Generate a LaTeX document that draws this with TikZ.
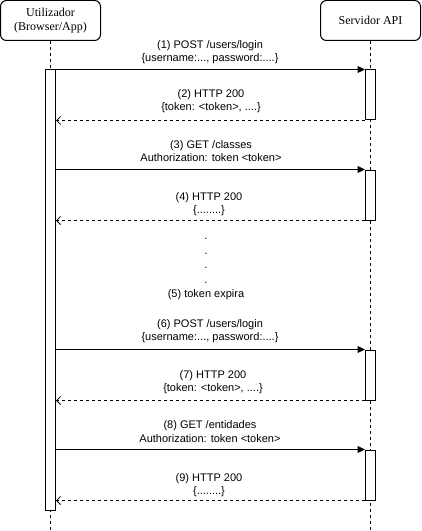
\documentclass[tikz,border=0pt]{standalone}
\usepackage{fontspec}
\setmainfont{Liberation Serif}
\setsansfont{Liberation Sans}
\usetikzlibrary{arrows.meta}
\begin{document}
\begin{tikzpicture}[x=0.75pt,y=-0.75pt,
  actor/.style={draw, rounded corners=4.5pt, minimum width=75pt, minimum height=30pt, align=center, font=\rmfamily\fontsize{9}{10.5}\selectfont, inner sep=0pt, line width=0.75pt},
  lifeline/.style={draw, dash pattern=on 2.25pt off 2.25pt, line width=0.6pt},
  bar/.style={draw, fill=white, minimum width=7.5pt, inner sep=0pt, line width=0.75pt},
  msg/.style={-{Triangle[length=5.5pt,width=5pt]}, line width=0.75pt},
  ret/.style={-{Straight Barb[length=3pt,width=6pt,line width=0.6pt]}, dash pattern=on 2.25pt off 2.25pt, line width=0.6pt},
  lbl/.style={font=\sffamily\fontsize{8.25}{9.9}\selectfont, align=center, inner sep=0pt}]
\useasboundingbox (0,0) rectangle (421,531);
% actors
\node[actor] (ua) at (50.5,20.5) {Utilizador\\(Browser/App)};
\node[actor] (sa) at (370.5,20.5) {Servidor API};
% lifelines
\coordinate (uend) at (50.5,531);
\coordinate (send) at (370.5,531);
\draw[lifeline] (ua.south) -- (uend);
\draw[lifeline] (sa.south) -- (send);
% activation bars
\node[bar, minimum height=330pt] (ub) at (50.5,290) {};
\node[bar, minimum height=37.5pt] (s1) at (370.5,95) {};
\node[bar, minimum height=37.5pt] (s2) at (370.5,195) {};
\node[bar, minimum height=37.5pt] (s3) at (370.5,375) {};
\node[bar, minimum height=37.5pt] (s4) at (370.5,475) {};
% messages
\draw[msg] (ub.east |- s1.north) -- (s1.north west);
\draw[ret] (s1.south west) -- (ub.east |- s1.south);
\draw[msg] (ub.east |- s2.north) -- (s2.north west);
\draw[ret] (s2.south west) -- (ub.east |- s2.south);
\draw[msg] (ub.east |- s3.north) -- (s3.north west);
\draw[ret] (s3.south west) -- (ub.east |- s3.south);
\draw[msg] (ub.east |- s4.north) -- (s4.north west);
\draw[ret] (s4.south west) -- (ub.east |- s4.south);
% labels
\node[lbl] (l1) at (210,52.3) {(1) POST /users/login\\\{username:..., password:....\}};
\node[lbl] (l2) at (211,101) {(2) HTTP 200\\\{token: <token>, ....\}};
\node[lbl] (l3) at (211,151.3) {(3) GET /classes\\Authorization: token <token>};
\node[lbl] (l4) at (209,204.5) {(4) HTTP 200\\\{........\}};
\node[lbl, anchor=base] (d1) at (206,239) {.};
\node[lbl, anchor=base] (d2) at (206,254) {.};
\node[lbl, anchor=base] (d3) at (206,268.5) {.};
\node[lbl, anchor=base] (d4) at (206,283) {.};
\node[lbl, anchor=base] (l5) at (206,297) {(5) token expira};
\node[lbl] (l6) at (210,331.5) {(6) POST /users/login\\\{username:..., password:....\}};
\node[lbl] (l7) at (213,382) {(7) HTTP 200\\\{token: <token>, ....\}};
\node[lbl] (l8) at (210,431.5) {(8) GET /entidades\\Authorization: token <token>};
\node[lbl] (l9) at (209,485.5) {(9) HTTP 200\\\{........\}};
\end{tikzpicture}
\end{document}
